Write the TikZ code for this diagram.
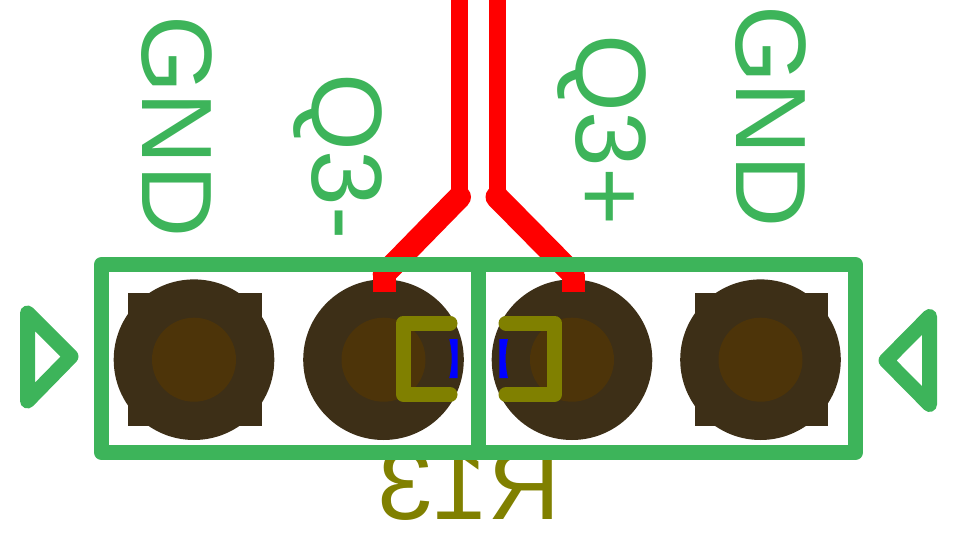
\documentclass[tikz,border=0pt]{standalone}
\usepackage{fontspec}
\setmainfont{Liberation Sans}
\begin{document}
\begin{tikzpicture}[x=1pt,y=-1pt,
        silk/.style={draw=silkgreen,line width=15pt,line join=round,line cap=round},
        fab/.style={draw=fabolive,line width=15pt,line join=round,line cap=round},
        label/.style={inner sep=0pt,anchor=base west,text=silkgreen,font=\fontsize{100}{100}\selectfont,rotate=-90},
        padbody/.style={fill=padbrown},
        padhole/.style={fill=holebrown},
        copper/.style={draw=red,line join=round}]
        \definecolor{silkgreen}{RGB}{61,180,90}
        \definecolor{fabolive}{RGB}{128,128,0}
        \definecolor{padbrown}{RGB}{61,47,23}
        \definecolor{holebrown}{RGB}{77,52,9}
        \useasboundingbox (0,0) rectangle (953,540);
        % Pads
        \fill[padbody] (128.3,293) rectangle (262,426);
        \fill[padbody] (695,293) rectangle (828,426);
        \foreach \px in {194,383.5,572,760.5} {
            \fill[padbody] (\px,359.7) circle (80.3pt);
            \fill[padhole] (\px,359.7) circle (42pt);
        }
        % Tracks
        \draw[copper,line width=17pt] (459.5,0) -- (459.5,197);
        \draw[copper,line width=17pt] (497,0) -- (497,197);
        \draw[copper,line width=23pt,line cap=round] (459.5,197) -- (384.2,274);
        \draw[copper,line width=23pt,line cap=round] (497,197) -- (573,274);
        \draw[copper,line width=23pt] (384.2,274) -- (384.2,292);
        \draw[copper,line width=23pt] (573,274) -- (573,292);
        % Courtyard marks
        \draw[fab] (450,323) -- (403.5,323) -- (403.5,394.5) -- (450,394.5);
        \draw[fab] (506,323) -- (554.5,323) -- (554.5,394.5) -- (506,394.5);
        \fill[blue] (449.3,339) -- (457.7,339) -- (457.7,378) -- (449.3,378)
            .. controls (452.5,365) and (452.5,352) .. (449.3,339);
        \fill[blue] (499.3,339) -- (508,339)
            .. controls (504.8,352) and (504.8,365) .. (508,378) -- (499.3,378) -- cycle;
        \node[inner sep=0pt,anchor=base west,text=fabolive,font=\fontsize{100}{100}\selectfont,
            xscale=-1,transform shape] (ref) at (561,519) {R13};
        % Outline
        \draw[silk] (101.5,264.5) rectangle (855.5,452.5);
        \draw[silk] (478,264.5) -- (478,452.5);
        \draw[silk] (27.5,313) -- (71,356.5) -- (27.5,401) -- cycle;
        \draw[silk] (929.5,316.5) -- (886,360.5) -- (929.5,404.5) -- cycle;
        % Pin names
        \node[label] (gndl) at (142.7,15) {GND};
        \node[label] (qminus) at (312.5,73) {Q3-};
        \node[label] (qplus) at (576.5,34) {Q3+};
        \node[label] (gndr) at (736,5) {GND};
    \end{tikzpicture}
\end{document}
